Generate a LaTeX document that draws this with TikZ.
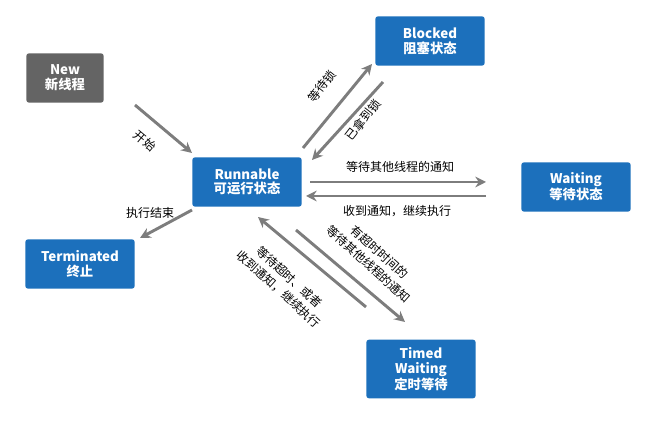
\documentclass[tikz,border=0pt]{standalone}
\usepackage{fontspec}
\setmainfont{Noto Sans CJK SC}
\usetikzlibrary{arrows.meta}
\definecolor{bx}{RGB}{28,112,188}
\definecolor{gx}{RGB}{100,100,100}
\definecolor{ar}{RGB}{125,125,125}
\begin{document}
\begin{tikzpicture}[x=0.75pt,y=-0.75pt,
 box/.style={draw=none,fill=bx,text=white,rounded corners=2pt,font=\bfseries\fontsize{10}{11}\selectfont,align=center,minimum width=82pt,minimum height=37pt,inner sep=1pt},
 arr/.style={ar,line width=2.2pt,-{Stealth[length=8pt,width=8pt]}},
 lb/.style={font=\fontsize{9}{12}\selectfont,text=black,align=center,inner sep=1pt}]
\useasboundingbox (0,0) rectangle (654,423);
\node[box,fill=gx,minimum width=58pt] (new) at (65,78) {New\\新线程};
\node[box] (run) at (247,182) {Runnable\\可运行状态};
\node[box] (blk) at (430,41) {Blocked\\阻塞状态};
\node[box] (wai) at (576,187) {Waiting\\等待状态};
\node[box] (ter) at (80,264) {Terminated\\终止};
\node[box,minimum height=44pt] (tim) at (421,369) {Timed\\Waiting\\定时等待};
% endpoints
\coordinate (a1) at (135,105); \coordinate (a2) at (192,153);
\coordinate (b1) at (192,210); \coordinate (b2) at (140,238);
\coordinate (c1) at (303,148); \coordinate (c2) at (372,64);
\coordinate (d1) at (383,82); \coordinate (d2) at (312,160);
\coordinate (e1) at (310,182); \coordinate (e2) at (486,182);
\coordinate (f1) at (486,196); \coordinate (f2) at (306,196);
\coordinate (g1) at (296,230); \coordinate (g2) at (405,322);
\coordinate (h1) at (366,307); \coordinate (h2) at (258,217);
\draw[arr] (a1) -- (a2);
\draw[arr] (b1) -- (b2);
\draw[arr] (c1) -- (c2);
\draw[arr] (d1) -- (d2);
\draw[arr] (e1) -- (e2);
\draw[arr] (f1) -- (f2);
\draw[arr] (g1) -- (g2);
\draw[arr] (h1) -- (h2);
\node[lb,rotate=-40] (la) at (145,141) {开始};
\node[lb] (lb2) at (150,213) {执行结束};
\node[lb,rotate=52] (lc) at (322,86) {等待锁};
\node[lb,rotate=52] (ld) at (363,120) {已拿到锁};
\node[lb] (le) at (400,167) {等待其他线程的通知};
\node[lb] (lf) at (397,211) {收到通知，继续执行};
\node[lb,rotate=-42] (lg) at (374,258) {有超时时间的\\等待其他线程的通知};
\node[lb,rotate=-42] (lh) at (284,283) {等待超时、或者\\收到通知，继续执行};
\end{tikzpicture}
\end{document}
